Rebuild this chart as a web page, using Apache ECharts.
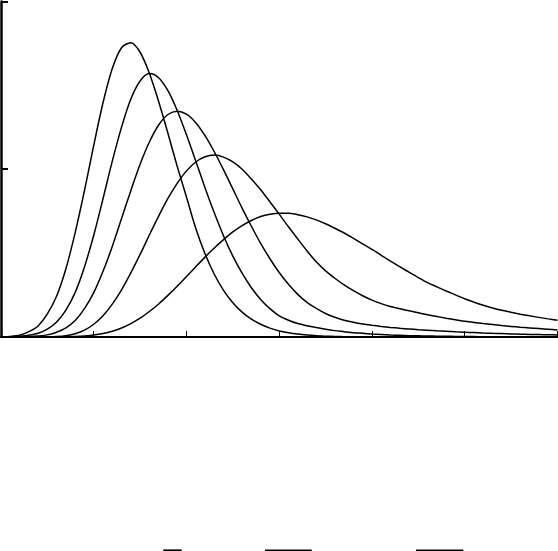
<!DOCTYPE html>
<html>
<head>
<meta charset="utf-8">
<script src="https://cdn.jsdelivr.net/npm/echarts@6/dist/echarts.min.js"></script>
<style>
html,body{margin:0;padding:0;background:#fff;}
#chart{width:558px;height:551px;}
</style>
</head>
<body>
<div id="chart"></div>
<script>
// x sample positions (shared by every curve)
const xs = [0,0.1,0.2,0.3,0.4,0.5,0.6,0.7,0.8,0.9,
  1.0,1.1,1.2,1.3,1.4,1.5,1.6,1.7,1.8,1.9,
  2.0,2.1,2.2,2.3,2.4,2.5,2.6,2.7,2.8,2.9,
  3.0,3.1,3.2,3.3,3.4,3.5,3.6,3.7,3.8,3.9,
  4.0,4.1,4.2,4.3,4.4,4.5,4.6,4.7,4.8,4.9,
  5.0,5.1,5.2,5.3,5.4,5.5,5.6,5.7,5.8,5.9,6.0];
// curve values
const curve1 = [0,0.0015,0.005,0.0158,0.033,0.0686,0.122,0.2035,0.311,0.436,
  0.571,0.698,0.800,0.862,0.877,0.8485,0.786,0.702,0.607,0.509,
  0.417,0.324,0.248,0.187,0.139,0.102,0.074,0.053,0.038,0.0265,
  0.018,0.0126,0.0086,0.0058,0.0039,0.0026,0.0017,0.0011,0.0007,0.0005,
  0.0003,0,0,0,0,0,0,0,0,0,
  0,0,0,0,0,0,0,0,0,0,0];
const curve2 = [0,0.0008,0.002,0.0049,0.011,0.0233,0.045,0.0801,0.133,0.2088,
  0.303,0.4119,0.524,0.6254,0.709,0.763,0.785,0.7727,0.734,0.675,
  0.6025,0.5245,0.445,0.370,0.301,0.2411,0.190,0.1469,0.112,0.0845,
  0.063,0.050,0.040,0.0335,0.028,0.023,0.019,0.016,0.013,0.011,
  0.009,0.0075,0.006,0.005,0.004,0.0035,0.003,0.0025,0.002,0.0018,
  0.0015,0.0012,0.001,0.001,0.0008,0.0007,0.0006,0.0005,0.0004,0.0003,0.0002];
const curve3 = [0,0,0.0005,0.0011,0.003,0.0063,0.014,0.0272,0.049,0.0843,
  0.132,0.1957,0.270,0.3531,0.436,0.5146,0.581,0.6318,0.663,0.673,
  0.664,0.6386,0.600,0.552,0.498,0.4412,0.384,0.330,0.279,0.2332,
  0.192,0.1569,0.127,0.103,0.085,0.070,0.059,0.050,0.044,0.039,
  0.035,0.0315,0.0285,0.026,0.0238,0.0218,0.020,0.0184,0.017,0.0156,
  0.0143,0.0131,0.012,0.011,0.0101,0.0093,0.0085,0.0078,0.0072,0.0066,0.006];
const curve4 = [0,0,0,0,0,0.0003,0.0013,0.0039,0.0097,0.0203,
  0.038,0.0633,0.098,0.1407,0.191,0.2461,0.304,0.3602,0.413,0.458,
  0.495,0.5215,0.537,0.542,0.536,0.5215,0.500,0.471,0.439,0.4029,
  0.366,0.3283,0.292,0.2567,0.224,0.197,0.175,0.155,0.138,0.123,
  0.110,0.0995,0.091,0.084,0.078,0.072,0.066,0.061,0.056,0.0515,
  0.047,0.0435,0.040,0.037,0.034,0.0315,0.029,0.027,0.025,0.023,0.021];
const curve5 = [0,0,0,0,0,0,0,0.0005,0.0013,0.0029,
  0.0057,0.0103,0.0173,0.027,0.040,0.0561,0.076,0.0985,0.124,0.151,
  0.180,0.2093,0.238,0.265,0.290,0.3131,0.332,0.3472,0.359,0.3659,
  0.369,0.3689,0.3645,0.358,0.349,0.3374,0.324,0.3098,0.294,0.2776,
  0.261,0.2435,0.226,0.2094,0.193,0.177,0.162,0.1495,0.137,0.1255,
  0.114,0.104,0.0945,0.0865,0.0795,0.0735,0.068,0.063,0.0585,0.054,0.050];
const curves = [curve1, curve2, curve3, curve4, curve5];
// axis ranges / ticks
const xMin = 0, xMax = 6, xStep = 1;
const yMin = 0, yMax = 1, yStep = 0.5;

const chart = echarts.init(document.getElementById('chart'), null, {renderer:'canvas'});
const series = curves.map(c => ({
  type: 'line',
  data: xs.map((x, i) => [x, c[i]]),
  showSymbol: false,
  smooth: 0.3,
  lineStyle: {color: '#000', width: 1.5},
  silent: true
}));

chart.setOption({
  animation: false,
  backgroundColor: '#fff',
  grid: {left: 1, right: 0.6, top: 1.4, bottom: 214, containLabel: false},
  xAxis: {
    type: 'value', min: xMin, max: xMax, interval: xStep,
    axisLine: {show: true, onZero: false, lineStyle: {color: '#000', width: 2}},
    axisTick: {show: true, inside: true, length: 6, lineStyle: {color: '#000', width: 1}},
    axisLabel: {show: false},
    splitLine: {show: false}
  },
  yAxis: {
    type: 'value', min: yMin, max: yMax, interval: yStep,
    axisLine: {show: true, onZero: false, lineStyle: {color: '#000', width: 2.5}},
    axisTick: {show: true, inside: true, length: 7, lineStyle: {color: '#000', width: 2}},
    axisLabel: {show: false},
    splitLine: {show: false}
  },
  graphic: [
    {type: 'line', shape: {x1: 163.3, y1: 550.2, x2: 181.7, y2: 550.2}, style: {stroke: '#000', lineWidth: 1.6}},
    {type: 'line', shape: {x1: 265, y1: 550.2, x2: 311.7, y2: 550.2}, style: {stroke: '#000', lineWidth: 1.6}},
    {type: 'line', shape: {x1: 416, y1: 550.2, x2: 463.3, y2: 550.2}, style: {stroke: '#000', lineWidth: 1.6}}
  ],
  series: series
});
</script>
</body>
</html>
